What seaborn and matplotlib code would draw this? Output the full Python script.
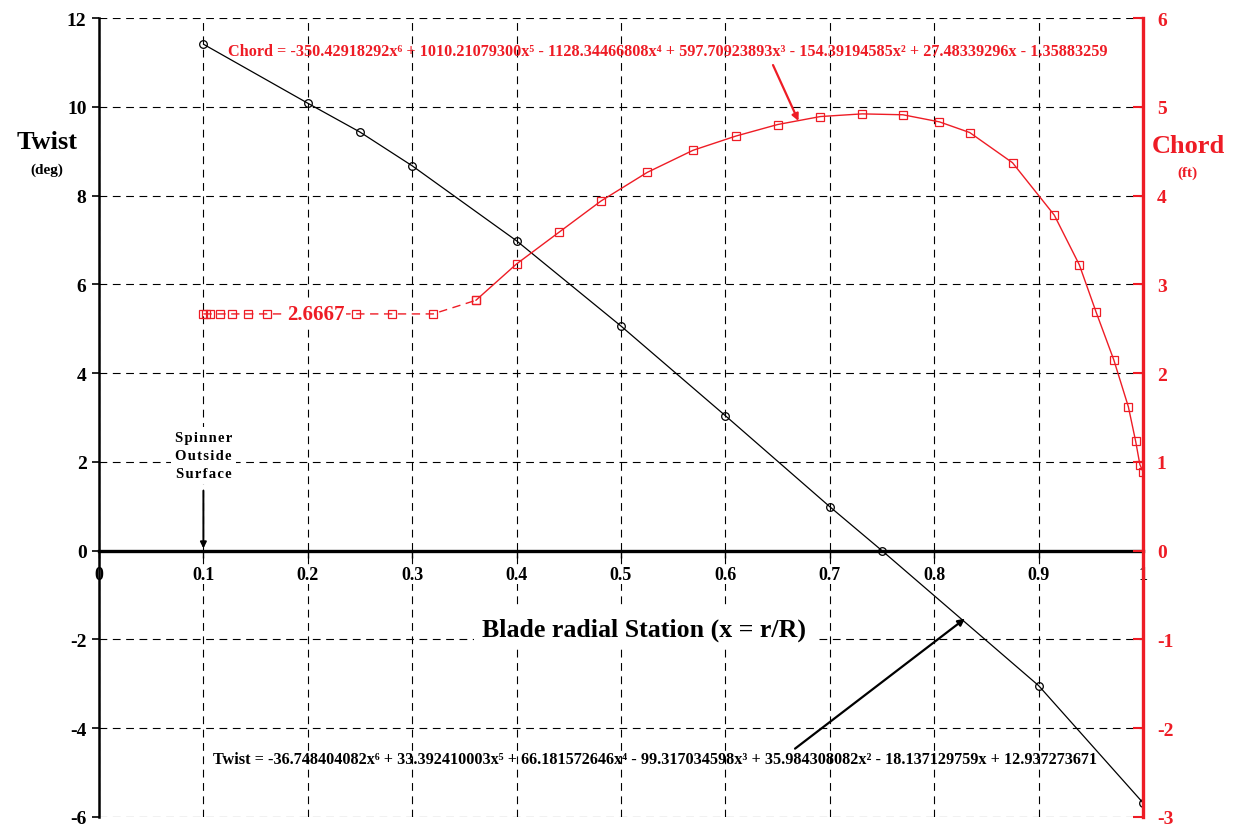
import numpy as np
import pandas as pd
import matplotlib
matplotlib.use("Agg")
import matplotlib.pyplot as plt
import seaborn as sns

# ---- data ----
twist_x = [0.1, 0.2, 0.25, 0.3, 0.4, 0.5, 0.6, 0.7, 0.75, 0.9, 1.0]
twist_y = [11.41, 10.08, 9.43, 8.67, 6.98, 5.06, 3.04, 0.99, 0.0, -3.04, -5.68]

chord_flat_x = [0.1, 0.1025, 0.106, 0.116, 0.127, 0.143, 0.161, 0.246, 0.281, 0.320, 0.361]
chord_flat_y = [2.6667, 2.6667, 2.6667, 2.6667, 2.6667, 2.6667, 2.6667, 2.6667, 2.6667, 2.6667, 2.82]

chord_fit_x = [0.361, 0.400, 0.441, 0.481, 0.525, 0.569, 0.610, 0.650, 0.691, 0.731,
               0.770, 0.805, 0.834, 0.875, 0.915, 0.939, 0.955, 0.972, 0.986, 0.993,
               0.997, 1.0]
chord_fit_y = [2.82, 3.23, 3.59, 3.94, 4.26, 4.51, 4.67, 4.80, 4.89, 4.92,
               4.91, 4.83, 4.71, 4.37, 3.78, 3.22, 2.69, 2.15, 1.62, 1.23,
               0.97, 0.89]

x_ticks = [0, 0.1, 0.2, 0.3, 0.4, 0.5, 0.6, 0.7, 0.8, 0.9, 1]
x_tick_labels = ["0", "0.1", "0.2", "0.3", "0.4", "0.5", "0.6", "0.7", "0.8", "0.9", "1"]
twist_ticks = [-6, -4, -2, 0, 2, 4, 6, 8, 10, 12]
chord_ticks = [-3, -2, -1, 0, 1, 2, 3, 4, 5, 6]

chord_eq = ("Chord = -350.42918292x\u2076 + 1010.21079300x\u2075 - 1128.34466808x\u2074 + "
            "597.70923893x\u00b3 - 154.39194585x\u00b2 + 27.48339296x - 1.35883259")
twist_eq = ("Twist = -36.748404082x\u2076 + 33.392410003x\u2075 + 66.181572646x\u2074 - "
            "99.317034598x\u00b3 + 35.984308082x\u00b2 - 18.137129759x + 12.937273671")

RED = "#EE1C25"

sns.set_style("white")
plt.rcParams['font.family'] = ['Liberation Serif', 'DejaVu Serif']
plt.rcParams['font.weight'] = 'bold'
plt.rcParams['axes.unicode_minus'] = False

fig = plt.figure(figsize=(12.33, 8.29), dpi=100)
ax = fig.add_axes([99/1233, 1 - 818/829, 1044/1233, 799/829])
ax2 = ax.twinx()

df_t = pd.DataFrame({"x": twist_x, "y": twist_y})
df_cf = pd.DataFrame({"x": chord_flat_x, "y": chord_flat_y})
df_cs = pd.DataFrame({"x": chord_fit_x, "y": chord_fit_y})

# grid
ax.set_xlim(0, 1)
ax.set_ylim(-6, 12)
ax.set_xticks(x_ticks)
ax.set_xticklabels(x_tick_labels)
ax.set_yticks(twist_ticks)
ax.grid(True, color="black", linestyle=(0, (7, 5)), linewidth=0.8)
ax.set_axisbelow(True)

sns.lineplot(data=df_t, x="x", y="y", ax=ax, color="black", linewidth=0.9,
             marker="o", markersize=5.5, markerfacecolor="none",
             markeredgecolor="black", markeredgewidth=0.9, sort=False, estimator=None)

sns.lineplot(data=df_cf, x="x", y="y", ax=ax2, color=RED, linewidth=1.0,
             linestyle=(0, (6, 4)), marker="s", markersize=6,
             markerfacecolor="none", markeredgecolor=RED, markeredgewidth=0.9,
             sort=False, estimator=None)
sns.lineplot(data=df_cs, x="x", y="y", ax=ax2, color=RED, linewidth=1.0,
             marker="s", markersize=6, markerfacecolor="none",
             markeredgecolor=RED, markeredgewidth=0.9, sort=False, estimator=None)

ax2.set_ylim(-3, 6)
ax2.set_yticks(chord_ticks)
ax2.grid(False)

# spines
ax.spines["top"].set_visible(False)
ax2.spines["top"].set_visible(False)
ax.spines["right"].set_visible(False)
ax2.spines["left"].set_visible(False)
ax2.spines["bottom"].set_visible(False)
ax.spines["bottom"].set_position(("data", 0))
ax.spines["bottom"].set_linewidth(2.4)
ax.spines["bottom"].set_color("black")
ax.spines["left"].set_linewidth(1.8)
ax.spines["left"].set_color("black")
ax2.spines["right"].set_linewidth(2.4)
ax2.spines["right"].set_color(RED)

ax.tick_params(axis="y", direction="out", length=5, width=1.2, colors="black",
               labelsize=14, pad=4, left=True)
ax.tick_params(axis="x", direction="out", length=5, width=1, colors="black",
               labelsize=13, pad=6, bottom=True)
ax2.tick_params(axis="y", direction="in", length=7, width=1.5, colors=RED,
                labelcolor=RED, labelsize=14, pad=10, right=True)
for lab in ax.get_xticklabels() + ax.get_yticklabels() + ax2.get_yticklabels():
    lab.set_fontweight("bold")
for lab in ax.get_xticklabels():
    lab.set_bbox(dict(facecolor="white", edgecolor="none", pad=1))

ax.set_xlabel("")
ax.set_ylabel("")
ax2.set_ylabel("")

# axis titles
ax.text(-0.050, 0.846, "Twist", transform=ax.transAxes, ha="center", va="center",
        fontsize=19, fontweight="bold", color="black")
ax.text(-0.050, 0.811, "(deg)", transform=ax.transAxes, ha="center", va="center",
        fontsize=11, fontweight="bold", color="black")
ax.text(1.043, 0.840, "Chord", transform=ax.transAxes, ha="center", va="center",
        fontsize=19, fontweight="bold", color=RED)
ax.text(1.043, 0.807, "(ft)", transform=ax.transAxes, ha="center", va="center",
        fontsize=11, fontweight="bold", color=RED)

ax.text(0.5225, -1.77, "Blade radial Station (x = r/R)", ha="center", va="center",
        fontsize=18.6, fontweight="bold", color="black",
        bbox=dict(facecolor="white", edgecolor="none", pad=6), zorder=5)

# equations
ax2.text(0.124, 5.63, chord_eq, ha="left", va="center", fontsize=11.7,
         fontweight="bold", color=RED)
ax.text(0.109, -4.69, twist_eq, ha="left", va="center", fontsize=11.7,
        fontweight="bold", color="black")
ax2.text(0.180, 2.6667, "2.6667", ha="left", va="center", fontsize=15,
         fontweight="bold", color=RED,
         bbox=dict(facecolor="white", edgecolor="none", pad=1))

# arrows
ax2.annotate("", xy=(0.670, 4.84), xytext=(0.6456, 5.47),
             arrowprops=dict(arrowstyle="-|>", color=RED, lw=1.6,
                             mutation_scale=10, shrinkA=0, shrinkB=0))
ax.annotate("", xy=(0.8295, -1.53), xytext=(0.6667, -4.46),
            arrowprops=dict(arrowstyle="-|>", color="black", lw=1.6,
                            mutation_scale=10, shrinkA=0, shrinkB=0))

# spinner annotation
ts = "\u200a"
spinner = "\n".join(ts.join(w) for w in ["Spinner", "Outside", "Surface"])
ax.text(0.1, 2.15, spinner, ha="center", va="center",
        fontsize=10.5, fontweight="bold", color="black", linespacing=1.5,
        bbox=dict(facecolor="white", edgecolor="none", pad=3))
ax.annotate("", xy=(0.1, 0.05), xytext=(0.1, 1.35),
            arrowprops=dict(arrowstyle="-|>", color="black", lw=1.4,
                            mutation_scale=9, shrinkA=0, shrinkB=0))

fig.savefig("out.png", dpi=100)
